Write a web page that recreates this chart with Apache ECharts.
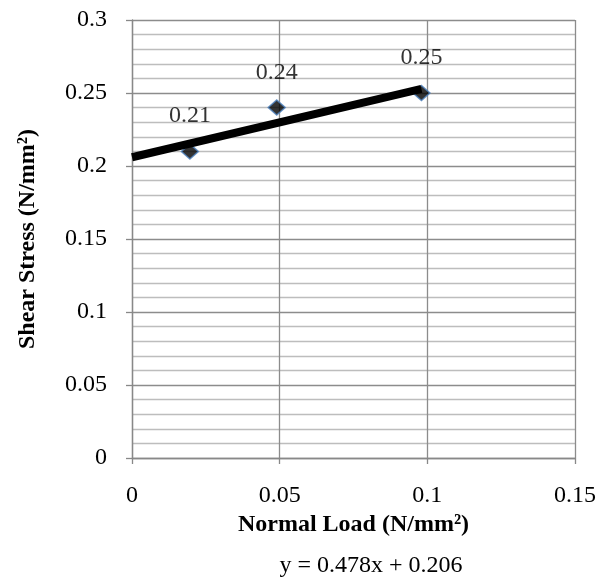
<!DOCTYPE html>
<html><head><meta charset="utf-8">
<script src="https://cdn.jsdelivr.net/npm/echarts@6/dist/echarts.min.js"></script>
<style>html,body{margin:0;padding:0;background:#fff}#c{width:613px;height:578px}</style>
</head><body><div id="c"></div>
<script>
const normalLoad = [0.0196, 0.049, 0.098];
const shearStress = [0.21, 0.24, 0.25];
const trendSlope = 0.478;
const trendIntercept = 0.206;
const xTicks = [0, 0.05, 0.1, 0.15];
const yTicks = [0, 0.05, 0.1, 0.15, 0.2, 0.25, 0.3];
const equationText = 'y = 0.478x + 0.206';

const pts = normalLoad.map((x, i) => [x, shearStress[i]]);
const trendX = [0, normalLoad[normalLoad.length - 1]];
const trend = trendX.map(x => [x, trendSlope * x + trendIntercept]);
const font = 'Liberation Serif';

const chart = echarts.init(document.getElementById('c'));
chart.setOption({
  animation: false,
  backgroundColor: '#fff',
  grid: { left: 132, right: 38, top: 20, bottom: 120 },
  xAxis: {
    type: 'value', min: xTicks[0], max: xTicks[xTicks.length - 1], interval: 0.05,
    name: 'Normal Load (N/mm²)', nameLocation: 'middle', nameGap: 52,
    nameTextStyle: { fontFamily: font, fontWeight: 'bold', fontSize: 24, color: '#000' },
    axisLine: { lineStyle: { color: '#888', width: 1.3 } },
    axisTick: { show: true, length: 6, lineStyle: { color: '#888', width: 1.3 } },
    axisLabel: { fontFamily: font, fontSize: 24, color: '#000', margin: 26 },
    splitLine: { show: true, lineStyle: { color: '#8c8c8c', width: 1.3 } }
  },
  yAxis: {
    type: 'value', min: yTicks[0], max: yTicks[yTicks.length - 1], interval: 0.05,
    name: 'Shear Stress (N/mm²)', nameLocation: 'middle', nameGap: 92,
    nameTextStyle: { fontFamily: font, fontWeight: 'bold', fontSize: 24, color: '#000' },
    axisLine: { show: true, lineStyle: { color: '#888', width: 1.3 } },
    axisTick: { show: true, length: 6, lineStyle: { color: '#888', width: 1.3 } },
    axisLabel: { fontFamily: font, fontSize: 24, color: '#000', margin: 25 },
    splitLine: { show: true, lineStyle: { color: '#8c8c8c', width: 1.3 } },
    minorTick: { show: false, splitNumber: 5 },
    minorSplitLine: { show: true, lineStyle: { color: '#bdbdbd', width: 1.3 } }
  },
  graphic: [{
    type: 'text', x: 371, y: 554,
    style: { text: equationText, fontFamily: font, fontSize: 24, fill: '#000', align: 'center' }
  }],
  series: [
    {
      type: 'scatter', data: pts, symbol: 'diamond', symbolSize: [17, 15], z: 3,
      itemStyle: { color: '#000', borderColor: '#4a7ebb', borderWidth: 1.5 },
      label: { show: true, position: 'top', distance: 15, fontFamily: font, fontSize: 24, color: '#000',
        formatter: p => String(p.value[1]) }
    },
    {
      type: 'line', data: trend, symbol: 'none', z: 4, silent: true,
      lineStyle: { color: '#000', width: 8 }
    }
  ]
});
</script></body></html>
